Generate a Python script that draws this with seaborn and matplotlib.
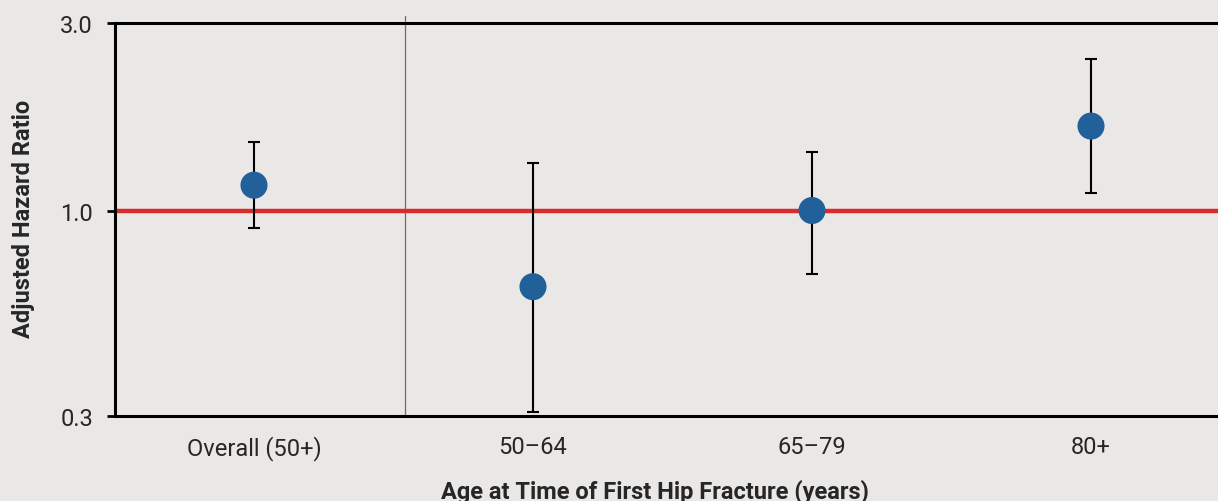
import numpy as np
import pandas as pd
import matplotlib
matplotlib.use("Agg")
import matplotlib.pyplot as plt
import seaborn as sns

#%% Data
groups = ["Overall (50+)", "50\u201364", "65\u201379", "80+"]
hazard_ratio = [1.16, 0.64, 1.00, 1.64]
ci_low = [0.90, 0.307, 0.69, 1.11]
ci_high = [1.49, 1.32, 1.41, 2.43]

df = pd.DataFrame({"group": groups, "hr": hazard_ratio, "lo": ci_low, "hi": ci_high})

#%% Style
bg = "#EAE8E6"
sns.set_theme(style="white")
plt.rcParams["font.family"] = ["Roboto", "DejaVu Sans"]
plt.rcParams["figure.facecolor"] = bg
plt.rcParams["axes.facecolor"] = bg

fig = plt.figure(figsize=(12.18, 5.02), dpi=100)
ax = fig.add_axes([114.5 / 1218, 85 / 502, 1116 / 1218, 393 / 502])

# reference line at HR = 1
ax.axhline(1.0, color="#D92B2B", lw=3.2, zorder=1)

# separator between overall and age groups
ax.axvline(0.54, ymin=0, ymax=1.018, color="#6b6b6b", lw=0.9, clip_on=False, zorder=0.5)

# confidence intervals
yerr = np.array([df["hr"] - df["lo"], df["hi"] - df["hr"]])
ax.errorbar(df["group"], df["hr"], yerr=yerr, fmt="none", ecolor="black",
            elinewidth=1.5, capsize=4.5, capthick=1.5, zorder=2)

# point estimates
sns.scatterplot(data=df, x="group", y="hr", ax=ax, s=380, color="#22609A",
                edgecolor="none", zorder=3, legend=False)

#%% Axes
ax.set_yscale("log")
ax.set_ylim(0.3, 3.0)
ax.set_yticks([0.3, 1.0, 3.0])
ax.set_yticklabels(["0.3", "1.0", "3.0"])
ax.yaxis.set_minor_locator(matplotlib.ticker.NullLocator())
ax.set_xlim(-0.5, 3.5)

for side in ["left", "top", "bottom"]:
    ax.spines[side].set_visible(True)
    ax.spines[side].set_color("black")
    ax.spines[side].set_linewidth(2.2)
ax.spines["right"].set_visible(False)

ax.tick_params(axis="y", which="major", direction="out", length=5.5, width=2,
               color="black", pad=10, labelsize=17, left=True)
ax.tick_params(axis="x", length=0, pad=14, labelsize=17)

ax.set_xlabel("Age at Time of First Hip Fracture (years)", fontsize=17,
              fontweight="bold")
ax.set_ylabel("Adjusted Hazard Ratio", fontsize=17, fontweight="bold")
ax.xaxis.set_label_coords((655 - 114.5) / 1116, -(480 - 417) / 393)
ax.yaxis.set_label_coords(-(114.5 - 35) / 1116, (416 - 218) / 393)

plt.savefig("out.png", dpi=100, facecolor=bg)
plt.close()
